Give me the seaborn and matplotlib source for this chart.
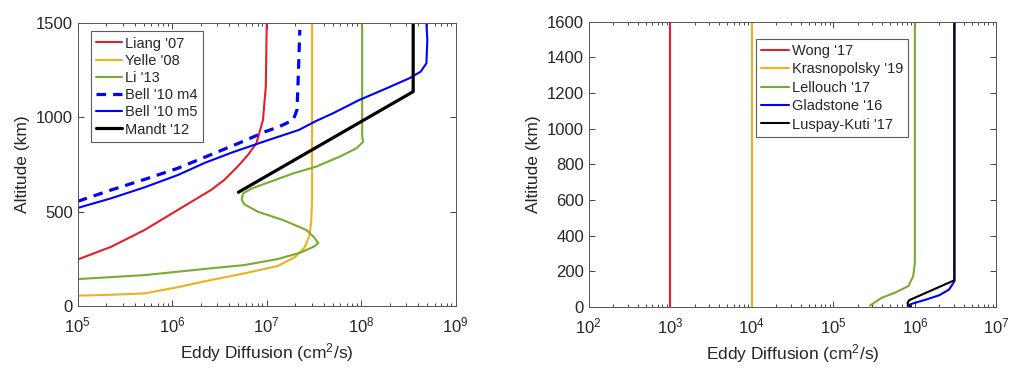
import numpy as np
import pandas as pd
import matplotlib
matplotlib.use("Agg")
import matplotlib.pyplot as plt
import seaborn as sns

# ---- left panel: log10(K) and altitude (km) ----
liang_logk = [5.0, 5.353, 5.706, 6.058, 6.41, 6.55, 6.69, 6.80, 6.89, 6.96, 6.99, 7.0]
liang_alt = [247, 314, 403, 509, 615, 668, 738, 800, 862, 986, 1163, 1500]

yelle_logk = [5.0, 5.353, 5.706, 6.058, 6.41, 6.76, 7.116, 7.30, 7.40, 7.45, 7.47, 7.48, 7.48]
yelle_alt = [55, 60, 67, 100, 138, 173, 212, 260, 310, 370, 440, 560, 1500]

li_logk = [5.0, 5.706, 6.41, 6.76, 7.116, 7.35, 7.50, 7.545, 7.50, 7.42, 7.17, 6.905,
           6.76, 6.735, 6.75, 6.85, 6.99, 7.28, 7.52, 7.77, 7.95, 8.02, 8.01, 8.01]
li_alt = [143, 164, 200, 217, 249, 282, 315, 334, 365, 403, 456, 500,
          540, 565, 597, 625, 650, 703, 738, 791, 836, 870, 900, 1500]

bell4_logk = [5.0, 5.353, 5.706, 6.058, 6.35, 6.70, 6.99, 7.13, 7.28, 7.32, 7.33, 7.35]
bell4_alt = [555, 615, 671, 730, 790, 862, 925, 950, 986, 1039, 1163, 1463]

bell5_logk = [5.0, 5.353, 5.706, 6.058, 6.35, 6.64, 6.99, 7.34, 7.52, 7.70, 7.98, 8.27,
              8.51, 8.63, 8.69, 8.70, 8.69]
bell5_alt = [520, 571, 629, 694, 760, 815, 875, 933, 980, 1021, 1092, 1154,
             1207, 1242, 1286, 1410, 1500]

mandt_logk = [6.70, 8.55, 8.55]
mandt_alt = [603, 1136, 1500]

# ---- right panel ----
wong_logk = [3.0, 3.0]
wong_alt = [0, 1600]

kras_logk = [4.0, 4.0]
kras_alt = [0, 1600]

lell_logk = [5.45, 5.59, 5.75, 5.92, 5.98, 6.0, 6.0]
lell_alt = [7, 50, 78, 116, 172, 246, 1600]

glad_logk = [5.91, 5.97, 6.14, 6.30, 6.42, 6.485, 6.485]
glad_alt = [7, 18, 41, 65, 97, 143, 1600]

lusp_logk = [5.95, 5.92, 5.91, 5.93, 6.485, 6.485]
lusp_alt = [3, 7, 22, 37, 149, 1600]

sns.set_style("ticks")
plt.rcParams["font.family"] = ["Liberation Sans", "DejaVu Sans"]
plt.rcParams["mathtext.fontset"] = "custom"
plt.rcParams["mathtext.rm"] = "Liberation Sans"
plt.rcParams["mathtext.it"] = "Liberation Sans"
plt.rcParams["mathtext.bf"] = "Liberation Sans:bold"
txt = "#262626"
plt.rcParams["text.color"] = txt
plt.rcParams["axes.labelcolor"] = txt
plt.rcParams["xtick.color"] = txt
plt.rcParams["ytick.color"] = txt

red, yel, grn, blu = "#E3202A", "#EDB120", "#77AC30", "#0000FF"

fig = plt.figure(figsize=(10.24, 3.76), dpi=100)
ax1 = fig.add_axes([0.076, 0.186, 0.369, 0.753])
ax2 = fig.add_axes([0.575, 0.184, 0.398, 0.758])


def draw(ax, logk, alt, color, label, lw=1.5, ls="-"):
    df = pd.DataFrame({"K": np.power(10.0, logk), "alt": alt})
    sns.lineplot(data=df, x="K", y="alt", ax=ax, sort=False, estimator=None,
                 color=color, lw=lw, linestyle=ls, label=label)


draw(ax1, liang_logk, liang_alt, red, "Liang '07")
draw(ax1, yelle_logk, yelle_alt, yel, "Yelle '08")
draw(ax1, li_logk, li_alt, grn, "Li '13")
draw(ax1, bell4_logk, bell4_alt, blu, "Bell '10 m4", lw=2.3, ls=(0, (3, 2.2)))
draw(ax1, bell5_logk, bell5_alt, blu, "Bell '10 m5")
draw(ax1, mandt_logk, mandt_alt, "black", "Mandt '12", lw=2.3)

draw(ax2, wong_logk, wong_alt, red, "Wong '17")
draw(ax2, kras_logk, kras_alt, yel, "Krasnopolsky '19")
draw(ax2, lell_logk, lell_alt, grn, "Lellouch '17")
draw(ax2, glad_logk, glad_alt, blu, "Gladstone '16")
draw(ax2, lusp_logk, lusp_alt, "black", "Luspay-Kuti '17")

for ax, xl, yl, yt in [(ax1, (1e5, 1e9), (0, 1500), [0, 500, 1000, 1500]),
                       (ax2, (1e2, 1e7), (0, 1600), list(range(0, 1601, 200)))]:
    ax.set_xscale("log")
    ax.set_xlim(*xl)
    ax.set_ylim(*yl)
    ax.set_yticks(yt)
    ax.set_xlabel("Eddy Diffusion (cm$^2$/s)", fontsize=12.5)
    ax.set_ylabel("Altitude (km)", fontsize=12.5)
    ax.tick_params(which="both", direction="in", top=True, right=True,
                   labelsize=12, width=0.6)
    ax.tick_params(which="major", length=4)
    ax.tick_params(which="minor", length=2)
    ax.tick_params(axis="x", pad=7)
    for s in ax.spines.values():
        s.set_color("#555555")
        s.set_linewidth(0.7)

leg1 = ax1.legend(loc="upper left", bbox_to_anchor=(0.035, 0.97), fontsize=10.5,
                  frameon=True, fancybox=False, handlelength=1.8, handletextpad=0.2,
                  labelspacing=0.22, borderpad=0.35, borderaxespad=0)
leg2 = ax2.legend(loc="upper left", bbox_to_anchor=(0.41, 0.94), fontsize=10.5,
                  frameon=True, fancybox=False, handlelength=1.9, handletextpad=0.2,
                  labelspacing=0.3, borderpad=0.35, borderaxespad=0)
for leg in (leg1, leg2):
    leg.get_frame().set_edgecolor("#333333")
    leg.get_frame().set_linewidth(0.8)

fig.savefig("out.png", dpi=100)
